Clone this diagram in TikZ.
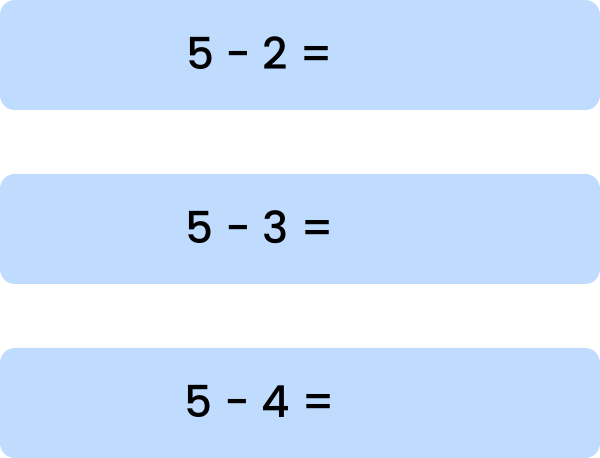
\documentclass[tikz,border=0pt]{standalone}
\usepackage{fontspec}
\setmainfont{Poppins Medium}
\definecolor{rowblue}{HTML}{BFDBFE}
\tikzset{
  rowbox/.style={fill=rowblue, draw=none, rounded corners=15pt,
    minimum width=600pt, minimum height=110pt, inner sep=0pt},
  sumtext/.style={font=\fontsize{44}{48}\selectfont, text=black, inner sep=0pt}
}
\begin{document}
\begin{tikzpicture}[x=1pt,y=1pt]
  \useasboundingbox (0,0) rectangle (600,458);
  \node[rowbox] (rowa) at (300,403) {};
  \node[rowbox] (rowb) at (300,229) {};
  \node[rowbox] (rowc) at (300,55) {};
  \node[sumtext] (suma) at (260,405) {5 - 2 =};
  \node[sumtext] (sumb) at (260,231) {5 - 3 =};
  \node[sumtext] (sumc) at (260,57) {5 - 4 =};
\end{tikzpicture}
\end{document}
